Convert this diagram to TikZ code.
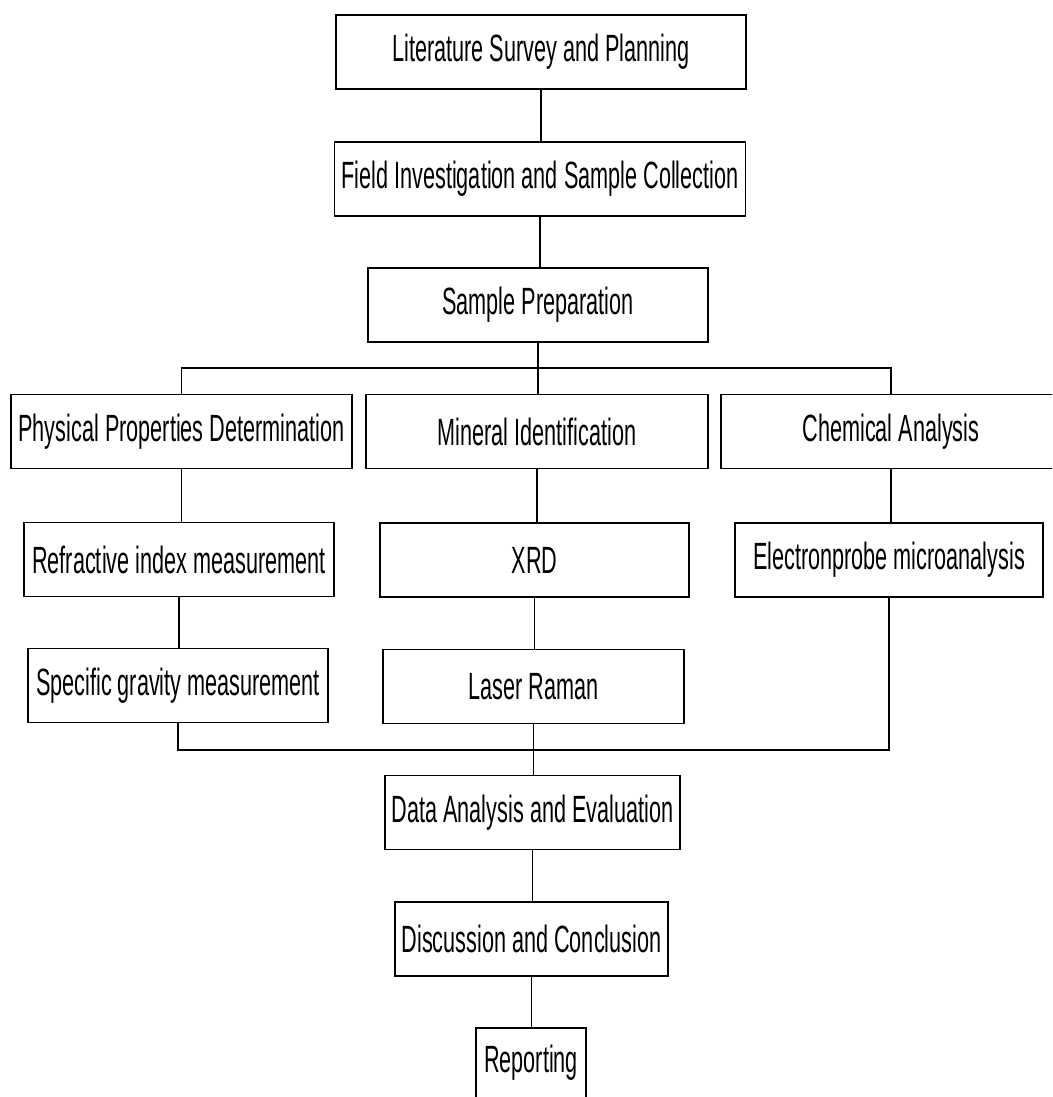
\documentclass[tikz,border=0pt]{standalone}
\usepackage{fontspec}
\setmainfont[FakeStretch=0.57]{Liberation Sans}
\begin{document}
\begin{tikzpicture}[x=0.025cm,y=-0.025cm,
  stage/.style={draw,line width=1.1pt,inner sep=0pt,minimum height=1.84cm,font=\fontsize{27}{30}\selectfont},
  link/.style={line width=0.8pt}]
  \useasboundingbox (0,0) rectangle (1052,1097);
  \clip (0,0) rectangle (1052,1097);
  \node[stage,minimum width=10.25cm] (lit) at (541,52) {Literature Survey and Planning};
  \node[stage,minimum width=10.275cm] (field) at (540,179) {Field Investigation and Sample Collection};
  \node[stage,minimum width=8.5cm] (prep) at (538,305) {Sample Preparation};
  \node[stage,minimum width=8.525cm] (phys) at (181.5,431.5) {Physical Properties Determination};
  \node[stage,minimum width=8.55cm] (mineral) at (537,431.5) {Mineral Identification};
  \node[stage,minimum width=8.5cm] (chem) at (891,431.5) {Chemical Analysis};
  \node[stage,minimum width=7.75cm] (refr) at (179,559.5) {Refractive index measurement};
  \node[stage,minimum width=7.725cm] (xrd) at (534.5,560) {XRD};
  \node[stage,minimum width=7.7cm] (epma) at (889,560) {Electronprobe microanalysis};
  \node[stage,minimum width=7.5cm] (sg) at (178,685.5) {Specific gravity measurement};
  \node[stage,minimum width=7.525cm] (raman) at (533.5,686.5) {Laser Raman};
  \node[stage,minimum width=7.375cm] (data) at (532.5,812.5) {Data Analysis and Evaluation};
  \node[stage,minimum width=6.825cm] (disc) at (531.5,939) {Discussion and Conclusion};
  \node[stage,minimum width=2.75cm,minimum height=2.1cm] (report) at (531,1070) {};
  \node[font=\fontsize{27}{30}\selectfont] (reporttext) at (531,1063) {Reporting};
  \coordinate (split) at (538,368);
  \coordinate (merge) at (533,750);
  \draw[link] (lit.south) -- (lit.south |- field.north);
  \draw[link] (field.south) -- (field.south |- prep.north);
  \draw[link] (prep.south) -- (split);
  \draw[link] (phys.north) |- (split) -| (chem.north);
  \draw[link] (split) -- (split |- mineral.north);
  \draw[link] (phys.south) -- (phys.south |- refr.north);
  \draw[link] (mineral.south) -- (mineral.south |- xrd.north);
  \draw[link] (chem.south) -- (chem.south |- epma.north);
  \draw[link] (refr.south) -- (refr.south |- sg.north);
  \draw[link] (xrd.south) -- (xrd.south |- raman.north);
  \draw[link] (sg.south) |- (merge) -| (epma.south);
  \draw[link] (raman.south) -- (raman.south |- data.north);
  \draw[link] (data.south) -- (data.south |- disc.north);
  \draw[link] (disc.south) -- (disc.south |- report.north);
\end{tikzpicture}
\end{document}
